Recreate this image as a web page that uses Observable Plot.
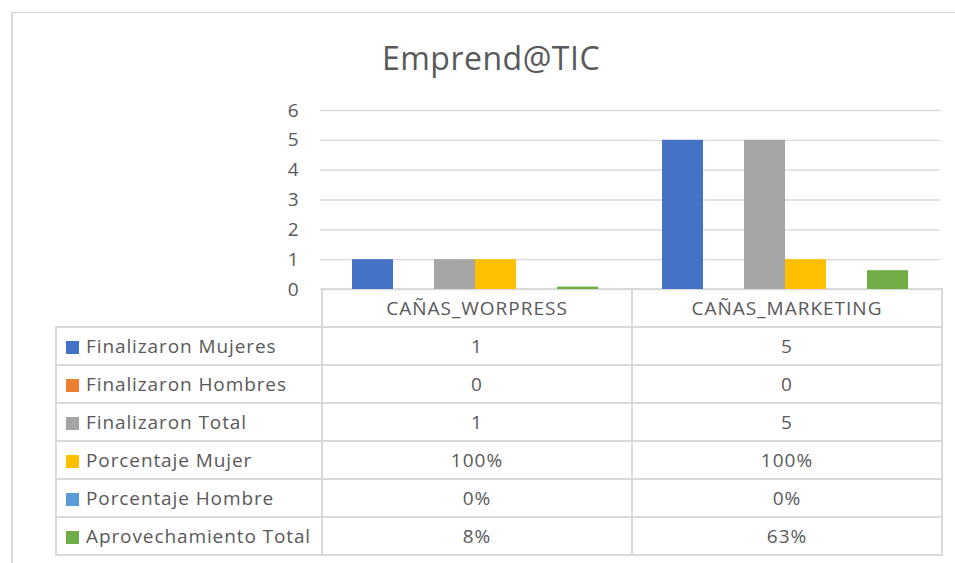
<!DOCTYPE html>
<html>
<head>
<meta charset="utf-8">
<script src="https://cdn.jsdelivr.net/npm/d3@7"></script>
<script src="https://cdn.jsdelivr.net/npm/@observablehq/plot@0.6"></script>
<style>
  html, body { margin: 0; padding: 0; background: #fff; }
  #root { position: relative; width: 955px; height: 563px; overflow: hidden; font-family: "Open Sans", sans-serif; color: #595959; }
  #frame { position: absolute; left: 11px; top: 12px; width: 960px; height: 600px; border-left: 2px solid #d9d9d9; border-top: 1px solid #d9d9d9; }
  #title { position: absolute; left: 0; width: 982px; top: 36px; text-align: center; font-size: 32px; letter-spacing: 0.5px; line-height: 44px; }
  #plot { position: absolute; left: 0; top: 0; }
  #tbl { position: absolute; left: 55px; top: 288px; border-collapse: collapse; font-size: 19px; letter-spacing: 1px; }
  #tbl td { border: 2px solid #d9d9d9; padding: 0; height: 36px; text-align: center; white-space: nowrap; }
  #tbl td.lab { text-align: left; width: 265px; padding-left: 9px; box-sizing: border-box; letter-spacing: 0.9px; }
  #tbl td.val { width: 308px; }
  #tbl td.blank { border: none; }
  .sw { display: inline-block; width: 13px; height: 13px; margin-right: 7px; vertical-align: -1px; }
</style>
</head>
<body>
<div id="root">
  <div id="frame"></div>
  <div id="title">Emprend@TIC</div>
  <table id="tbl"></table>
  <div id="plot"></div>
</div>
<script>
const categories = ["CAÑAS_WORPRESS", "CAÑAS_MARKETING"];
const seriesNames = ["Finalizaron Mujeres", "Finalizaron Hombres", "Finalizaron Total", "Porcentaje Mujer", "Porcentaje Hombre", "Aprovechamiento Total"];
const finalizaronMujeres = [1, 5];
const finalizaronHombres = [0, 0];
const finalizaronTotal = [1, 5];
const porcentajeMujer = [1, 1];
const porcentajeHombre = [0, 0];
const aprovechamientoTotal = [0.08, 0.63];
const isPercent = [false, false, false, true, true, true];
const colors = ["#4472C4", "#ED7D31", "#A5A5A5", "#FFC000", "#5B9BD5", "#70AD47"];
const yTicks = [0, 1, 2, 3, 4, 5, 6];

const seriesValues = [finalizaronMujeres, finalizaronHombres, finalizaronTotal, porcentajeMujer, porcentajeHombre, aprovechamientoTotal];
const data = [];
categories.forEach((c, ci) => {
  seriesNames.forEach((s, si) => {
    data.push({cat: c, series: s, value: seriesValues[si][ci]});
  });
});

const chart = Plot.plot({
  width: 955,
  height: 320,
  marginLeft: 320,
  marginRight: 15,
  marginTop: 110,
  marginBottom: 31,
  style: {fontFamily: "Open Sans, sans-serif", fontSize: "19px", color: "#595959", background: "transparent", pointerEvents: "none"},
  fx: {domain: categories, padding: 0, axis: null},
  x: {domain: seriesNames, paddingInner: 0, paddingOuter: 0.753, axis: null},
  y: {domain: [0, 6], label: null},
  color: {domain: seriesNames, range: colors},
  marks: [
    Plot.gridY(yTicks, {stroke: "#d9d9d9", strokeOpacity: 1, strokeWidth: 1.4}),
    Plot.barY(data, {fx: "cat", x: "series", y: "value", fill: "series"}),
    Plot.axisY(yTicks, {tickSize: 0, tickPadding: 22, label: null, fill: "#595959", fontSize: 19})
  ]
});
document.getElementById("plot").appendChild(chart);

// data table
const tbl = document.getElementById("tbl");
const pct = d3.format(".0%");
let hdr = "<tr><td class='blank' style='width:265px'></td>";
categories.forEach(c => { hdr += `<td class='val'>${c}</td>`; });
hdr += "</tr>";
let rows = "";
seriesNames.forEach((s, si) => {
  rows += `<tr><td class='lab'><span class='sw' style='background:${colors[si]}'></span>${s}</td>`;
  categories.forEach((c, ci) => {
    const v = seriesValues[si][ci];
    rows += `<td class='val'>${isPercent[si] ? pct(v) : v}</td>`;
  });
  rows += "</tr>";
});
tbl.innerHTML = hdr + rows;
</script>
</body>
</html>
